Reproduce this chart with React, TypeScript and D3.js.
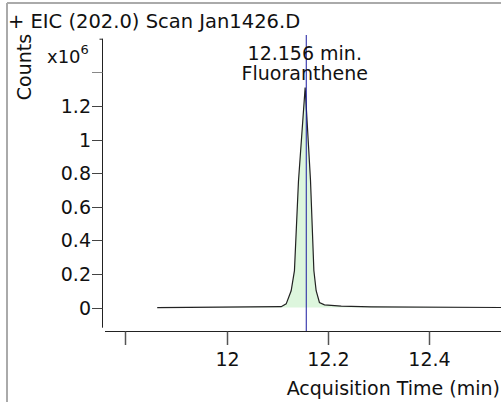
import { useEffect, useRef } from 'react'
import * as d3 from 'd3'

// EIC trace (time in min, counts in x10^6)
const times = [11.863, 12.1075, 12.1174, 12.1272, 12.1337, 12.1416, 12.1548, 12.1653, 12.172, 12.1765, 12.183, 12.1929, 12.226, 12.285, 12.56]
const counts = [0, 0.005, 0.022, 0.1, 0.22, 0.75, 1.31, 0.76, 0.22, 0.1, 0.03, 0.016, 0.008, 0.004, 0]

const xTicks = [11.8, 12, 12.2, 12.4]
const xTickLabels = ['', '12', '12.2', '12.4']
const yTicks = [0, 0.2, 0.4, 0.6, 0.8, 1, 1.2, 1.4]
const yTickLabels = ['0', '0.2', '0.4', '0.6', '0.8', '1', '1.2', '']

const peakTime = 12.156
const peakLabel = ['12.156 min.', 'Fluoranthene']
const title = '+ EIC (202.0) Scan Jan1426.D'

const FONT = '"DejaVu Sans", Verdana, sans-serif'

export default function App() {
  const svgRef = useRef<SVGSVGElement>(null)

  useEffect(() => {
    if (!svgRef.current) return
    const svg = d3.select(svgRef.current)
    svg.selectAll('*').remove()

    const width = 501
    const height = 402

    svg.append('rect').attr('width', width).attr('height', height).attr('fill', '#fff')

    // frame (left + top only, like the cropped panel)
    svg.append('line').attr('x1', 7).attr('x2', 7).attr('y1', 3).attr('y2', height)
      .attr('stroke', '#aaa').attr('stroke-width', 2)
    svg.append('line').attr('x1', 7).attr('x2', width).attr('y1', 3).attr('y2', 3)
      .attr('stroke', '#aaa').attr('stroke-width', 2)

    const x = d3.scaleLinear().domain([11.76, 12.55]).range([105, 505.5])
    const y = d3.scaleLinear().domain([-0.12, 1.6]).range([327.7, 38.7])

    const pts = times.map((t, i) => ({ t, v: counts[i] }))

    // peak fill
    const area = d3.area<{ t: number; v: number }>()
      .x(d => x(d.t))
      .y0(y(0))
      .y1(d => y(d.v))
    svg.append('path').datum(pts).attr('d', area).attr('fill', '#ddf6dd')

    const line = d3.line<{ t: number; v: number }>()
      .x(d => x(d.t))
      .y(d => y(d.v))
    svg.append('path').datum(pts).attr('d', line)
      .attr('fill', 'none').attr('stroke', '#222').attr('stroke-width', 1.2)

    // retention time marker
    svg.append('line')
      .attr('x1', x(peakTime) + 0.5).attr('x2', x(peakTime) + 0.5)
      .attr('y1', 35).attr('y2', 331)
      .attr('stroke', '#1a1aa0').attr('stroke-width', 1)

    // y axis
    const yAxisX = 102.5
    svg.append('line').attr('x1', yAxisX).attr('x2', yAxisX).attr('y1', y(1.6)).attr('y2', y(-0.12))
      .attr('stroke', '#222').attr('stroke-width', 1)
    svg.append('line').attr('x1', yAxisX - 3).attr('x2', yAxisX).attr('y1', y(1.6) + 0.5).attr('y2', y(1.6) + 0.5)
      .attr('stroke', '#222').attr('stroke-width', 1)
    yTicks.forEach((v, i) => {
      const yy = Math.round(y(v)) + 0.5
      svg.append('line').attr('x1', 92).attr('x2', yAxisX).attr('y1', yy).attr('y2', yy)
        .attr('stroke', yTickLabels[i] ? '#444' : '#888').attr('stroke-width', 1)
      if (yTickLabels[i]) {
        svg.append('text').attr('x', 91).attr('y', yy).attr('dy', '0.36em')
          .attr('text-anchor', 'end').attr('font-family', FONT).attr('font-size', 19)
          .attr('fill', '#111').text(yTickLabels[i])
      }
    })

    // x axis
    const xAxisY = 331.5
    svg.append('line').attr('x1', 105).attr('x2', width).attr('y1', xAxisY).attr('y2', xAxisY)
      .attr('stroke', '#222').attr('stroke-width', 1)
    xTicks.forEach((t, i) => {
      const xx = Math.round(x(t)) + 0.5
      svg.append('line').attr('x1', xx).attr('x2', xx).attr('y1', xAxisY).attr('y2', 345)
        .attr('stroke', '#555').attr('stroke-width', 1.5)
      if (xTickLabels[i]) {
        svg.append('text').attr('x', xx).attr('y', 366)
          .attr('text-anchor', 'middle').attr('font-family', FONT).attr('font-size', 19)
          .attr('fill', '#111').text(xTickLabels[i])
      }
    })

    svg.append('text').attr('x', 500).attr('y', 395).attr('text-anchor', 'end')
      .attr('font-family', FONT).attr('font-size', 19).attr('fill', '#111')
      .text('Acquisition Time (min)')

    // y title + multiplier
    svg.append('text').attr('transform', 'translate(31,67) rotate(-90)')
      .attr('text-anchor', 'middle').attr('font-family', FONT).attr('font-size', 19)
      .attr('fill', '#111').text('Counts')
    const mult = svg.append('text').attr('x', 47).attr('y', 63)
      .attr('font-family', FONT).attr('font-size', 18).attr('fill', '#111')
    mult.append('tspan').text('x10')
    mult.append('tspan').attr('dy', -9).attr('font-size', 13).text('6')

    // title
    svg.append('text').attr('x', 8).attr('y', 28)
      .attr('font-family', FONT).attr('font-size', 19.5).attr('fill', '#111').text(title)

    // peak annotation
    peakLabel.forEach((s, i) => {
      svg.append('text').attr('x', x(peakTime) - 1).attr('y', 60 + i * 20)
        .attr('text-anchor', 'middle').attr('font-family', FONT).attr('font-size', 19)
        .attr('fill', '#111').text(s)
    })
  }, [])

  return (
    <svg
      ref={svgRef}
      width={501}
      height={402}
      style={{ position: 'absolute', left: 0, top: 0, display: 'block' }}
    />
  )
}
